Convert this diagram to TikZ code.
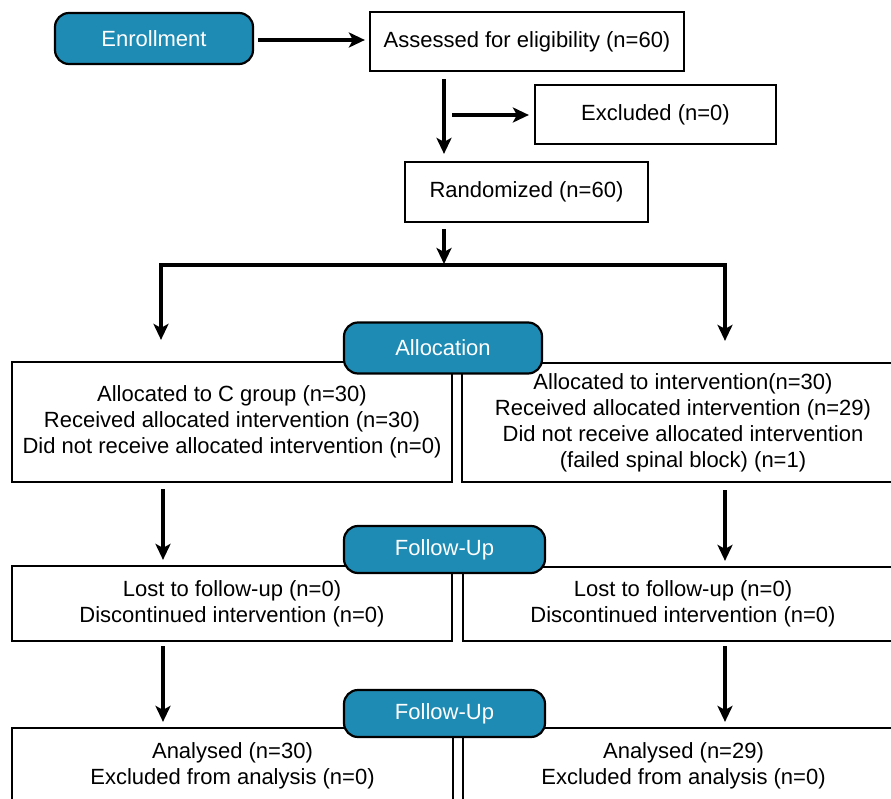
\documentclass[tikz,border=0pt]{standalone}
\usepackage{fontspec}
\setmainfont{Liberation Sans}
\usetikzlibrary{arrows.meta,calc}
\definecolor{flowblue}{RGB}{30,139,180}
\begin{document}
\begin{tikzpicture}[x=1pt,y=-1pt,
 box/.style={draw=black,line width=2.2pt,fill=white,align=center,inner sep=0pt,font=\fontsize{22}{26}\selectfont},
 stage/.style={draw=black,line width=2.2pt,fill=flowblue,rounded corners=14pt,text=white,inner sep=0pt,font=\fontsize{22}{26}\selectfont},
 arr/.style={line width=3.2pt,line join=miter,-{Stealth[length=16pt,width=15pt,inset=4pt]}},
 ln/.style={line width=3.2pt}]
\useasboundingbox (0,0) rectangle (891,799);
% boxes
\node[stage,minimum width=198pt,minimum height=51pt] (enroll) at (154,38.5) {Enrollment};
\node[box,minimum width=314pt,minimum height=59pt] (assess) at (527,41.5) {Assessed for eligibility (n=60)};
\node[box,minimum width=241pt,minimum height=59pt] (excl) at (655.5,114.5) {Excluded (n=0)};
\node[box,minimum width=243pt,minimum height=60pt] (rand) at (526.5,192) {Randomized (n=60)};
\node[box,minimum width=440pt,minimum height=120pt] (cL) at (232,422) {Allocated to C group (n=30)\\Received allocated intervention (n=30)\\Did not receive allocated intervention (n=0)};
\node[box,minimum width=442pt,minimum height=119pt] (cR) at (683,422.5) {Allocated to intervention(n=30)\\Received allocated intervention (n=29)\\Did not receive allocated intervention\\(failed spinal block) (n=1)};
\node[box,minimum width=440pt,minimum height=75pt] (lL) at (232,603.5) {Lost to follow-up (n=0)\\Discontinued intervention (n=0)};
\node[box,minimum width=440pt,minimum height=74pt] (lR) at (683,604) {Lost to follow-up (n=0)\\Discontinued intervention (n=0)};
\node[box,minimum width=441pt,minimum height=76pt] (aL) at (232.5,766) {Analysed (n=30)\\Excluded from analysis (n=0)};
\node[box,minimum width=441pt,minimum height=76pt] (aR) at (683.5,766) {Analysed (n=29)\\Excluded from analysis (n=0)};
% stage labels
\node[stage,minimum width=198pt,minimum height=51pt] (alloc) at (443,348) {Allocation};
\node[stage,minimum width=201pt,minimum height=47pt] (fu1) at (444.5,549.5) {Follow-Up};
\node[stage,minimum width=201pt,minimum height=47pt] (fu2) at (444.5,713.5) {Follow-Up};
% helper coordinates
\coordinate (ens) at (253,40);
\coordinate (vx) at (444,0);
\coordinate (exs) at (452,115);
\coordinate (junc) at (444,265);
\coordinate (bl) at (161,265);
\coordinate (br) at (725,265);
\coordinate (lx) at (163,0);
\coordinate (rx) at (725,0);
% connectors
\draw[arr,shorten <=5pt,shorten >=4pt] (ens) -- (ens -| assess.west);
\draw[arr,shorten <=7pt,shorten >=7pt] (vx |- assess.south) -- (vx |- rand.north);
\draw[arr,shorten >=5pt] (exs) -- (exs -| excl.west);
\draw[arr,shorten <=6pt,shorten >=1pt] (vx |- rand.south) -- (junc);
\draw[arr,shorten >=21pt] (junc) -| (bl |- cL.north);
\draw[arr,shorten >=21pt] (junc) -| (br |- cR.north);
\draw[arr,shorten <=6pt,shorten >=5pt] (lx |- cL.south) -- (lx |- lL.north);
\draw[arr,shorten <=7pt,shorten >=5pt] (rx |- cR.south) -- (rx |- lR.north);
\draw[arr,shorten <=4pt,shorten >=5pt] (lx |- lL.south) -- (lx |- aL.north);
\draw[arr,shorten <=4pt,shorten >=5pt] (rx |- lR.south) -- (rx |- aR.north);
\end{tikzpicture}
\end{document}
